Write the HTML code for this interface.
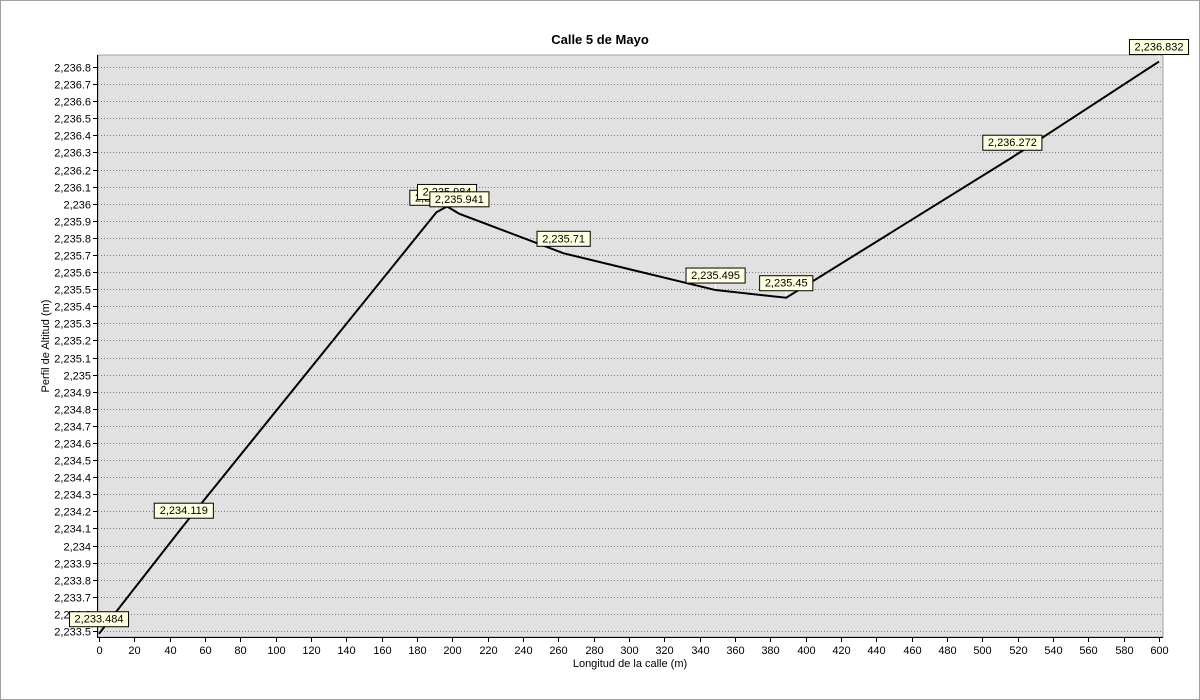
<!DOCTYPE html>
<html><head><meta charset="utf-8"><style>
html,body{margin:0;padding:0;background:#fff}
svg{display:block;font-family:"Liberation Sans",sans-serif}
</style></head><body>
<svg id="chart" width="1200" height="700" xmlns="http://www.w3.org/2000/svg">
<rect x="0.5" y="0.5" width="1199" height="699" fill="#fff" stroke="#a0a0a0"/>
<text x="600" y="44" text-anchor="middle" font-size="13" font-weight="bold">Calle 5 de Mayo</text>
<rect x="98" y="55" width="1065" height="582" fill="#e1e1e1" stroke="#a0a0a0"/>
<g id="grid"></g><g id="axes"></g><g id="series"></g><g id="labels"></g>
<text x="630" y="667" text-anchor="middle" font-size="11">Longitud de la calle (m)</text>
<text transform="translate(49,346) rotate(-90)" text-anchor="middle" font-size="11">Perfil de Altitud (m)</text>
</svg>
<script>
const distances=[0,48,191,197,204,263,349,389,517,600];
const altitudes=[2233.484,2234.119,2235.95,2235.984,2235.941,2235.71,2235.495,2235.45,2236.272,2236.832];
const pointLabels=["2,233.484","2,234.119","2,235.95","2,235.984","2,235.941","2,235.71","2,235.495","2,235.45","2,236.272","2,236.832"];
const xTicks=[0,20,40,60,80,100,120,140,160,180,200,220,240,260,280,300,320,340,360,380,400,420,440,460,480,500,520,540,560,580,600];
const yTicks=[2233.5,2233.6,2233.7,2233.8,2233.9,2234,2234.1,2234.2,2234.3,2234.4,2234.5,2234.6,2234.7,2234.8,2234.9,2235,2235.1,2235.2,2235.3,2235.4,2235.5,2235.6,2235.7,2235.8,2235.9,2236,2236.1,2236.2,2236.3,2236.4,2236.5,2236.6,2236.7,2236.8];
const NS="http://www.w3.org/2000/svg";
const X=v=>99+v*(1060/600);
const Y=v=>631-(v-2233.5)*(564/3.3);
function mk(t,a,p){const e=document.createElementNS(NS,t);for(const k in a)e.setAttribute(k,a[k]);p.appendChild(e);return e;}
const grid=document.getElementById('grid'),axes=document.getElementById('axes'),series=document.getElementById('series'),labels=document.getElementById('labels');
function fmt(v){let s=(Math.round(v*10)/10).toString();let [i,d]=s.split('.');i=i.replace(/\B(?=(\d{3})+(?!\d))/g,',');return d?i+'.'+d:i;}
yTicks.forEach(v=>{const y=Math.round(Y(v))+0.5;
 const g=mk('line',{x1:98,x2:1163,y1:y,y2:y,stroke:'#808080','stroke-dasharray':'1,2'},grid);
 
 const tk=mk('line',{x1:93,x2:98,y1:y,y2:y,stroke:'#000'},axes);
 
 const t=mk('text',{x:91,y:y+4,'text-anchor':'end','font-size':11},axes);t.textContent=fmt(v);
 });
xTicks.forEach(v=>{const x=Math.round(X(v))+0.5;
 const tk=mk('line',{x1:x,x2:x,y1:637,y2:642,stroke:'#000'},axes);
 
 const t=mk('text',{x:x,y:654,'text-anchor':'middle','font-size':11},axes);t.textContent=v;
 });
const ya=mk('line',{x1:97.5,x2:97.5,y1:55,y2:637,stroke:'#000'},axes);

const xa=mk('line',{x1:97,x2:1163,y1:637.5,y2:637.5,stroke:'#000'},axes);

const pl=mk('polyline',{points:distances.map((d,i)=>X(d)+','+Y(altitudes[i])).join(' '),fill:'none',stroke:'#000','stroke-width':2},series);

distances.forEach((d,i)=>{const x=X(d),y=Y(altitudes[i]);const w=pointLabels[i].length*5.9+6;
 const g=mk('g',{},labels);
 
 mk('line',{x1:x,x2:x,y1:y-7,y2:y-2,stroke:'#fff'},g);
 mk('rect',{x:x-w/2,y:y-22,width:w,height:15,fill:'#ffffe1',stroke:'#000'},g);
 const t=mk('text',{x:x,y:y-11,'text-anchor':'middle','font-size':11},g);t.textContent=pointLabels[i];});
</script>
</body></html>
